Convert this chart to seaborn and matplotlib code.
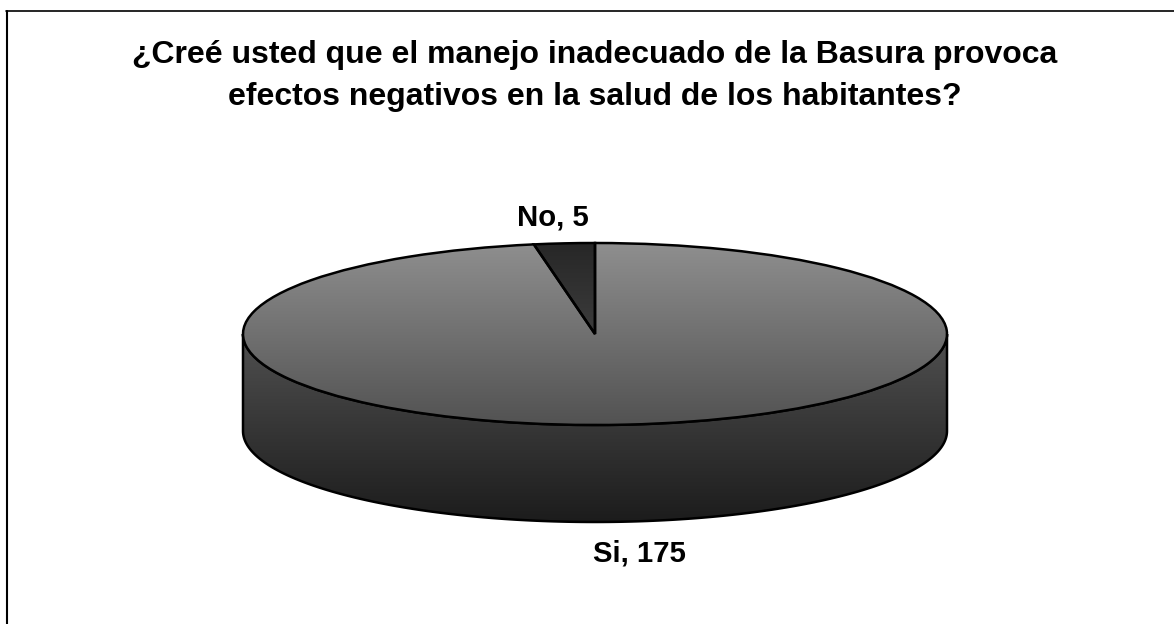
import numpy as np
import matplotlib
matplotlib.use('Agg')
import matplotlib.pyplot as plt
import matplotlib.patches as mpatches
from matplotlib.lines import Line2D
import seaborn as sns

# data
categories = ['Si', 'No']
values = [175, 5]
title = '¿Creé usted que el manejo inadecuado de la Basura provoca\nefectos negativos en la salud de los habitantes?'

W, H = 1174, 624
depth = 97 / 91  # alto del cilindro, en radios verticales

sns.set_theme(style='white')
plt.rcParams['font.family'] = ['Liberation Sans', 'DejaVu Sans']

fig = plt.figure(figsize=(W / 100, H / 100), dpi=100, facecolor='white')

# marco: solo arriba e izquierda
fig.add_artist(Line2D([6.5 / W, 6.5 / W], [0, 1 - 11 / H], color='black', lw=1.5))
fig.add_artist(Line2D([6 / W, 1], [1 - 11 / H, 1 - 11 / H], color='black', lw=1.2))

fig.text(595 / W, 1 - 104.5 / H, title, ha='center', va='baseline', fontsize=23,
         fontweight='bold', color='black', linespacing=1.5)

# eje: 1 unidad = radio de la elipse
ax = fig.add_axes([243 / W, 1 - 522 / H, 704 / W, 279 / H])
wedges, _ = ax.pie(values, startangle=90, counterclock=False, radius=1,
                   wedgeprops=dict(edgecolor='black', linewidth=1.8))


def gradient(top, bottom, extent, clip, z):
    cmap = sns.blend_palette([top, bottom], as_cmap=True)
    shade = np.linspace(0, 1, 256).reshape(-1, 1)
    im = ax.imshow(shade, cmap=cmap, extent=extent, aspect='auto', origin='upper', zorder=z)
    im.set_clip_path(clip)


# lateral
t = np.linspace(np.pi, 2 * np.pi, 200)
side_x = np.r_[np.cos(t), np.cos(t[::-1])]
side_y = np.r_[np.sin(t) - depth, np.sin(t[::-1])]
side = mpatches.Polygon(np.c_[side_x, side_y], closed=True, facecolor='none',
                        edgecolor='black', linewidth=1.8, zorder=2, clip_on=False)
ax.add_patch(side)
gradient('#505050', '#1c1c1c', (-1, 1, -1 - depth, 0), side, 1)

# tapa
for w in wedges:
    w.set_facecolor('none')
    w.set_zorder(4)
gradient('#8f8f8f', '#525252', (-1, 1, -1, 1), wedges[0], 3)
gradient('#272727', '#3c3c3c', (-1, 1, 0, 1), wedges[1], 3)

ax.set_aspect('auto')
ax.set_xlim(-1, 1)
ax.set_ylim(-1 - depth, 1)
ax.axis('off')

# etiquetas
label_pos = [(639.5, 561.5), (553, 225)]
for cat, val, (px, py) in zip(categories, values, label_pos):
    fig.text(px / W, 1 - py / H, f'{cat}, {val}', ha='center', va='baseline',
             fontsize=21.2, fontweight='bold', color='black')

fig.savefig('out.png', dpi=100, facecolor='white')
